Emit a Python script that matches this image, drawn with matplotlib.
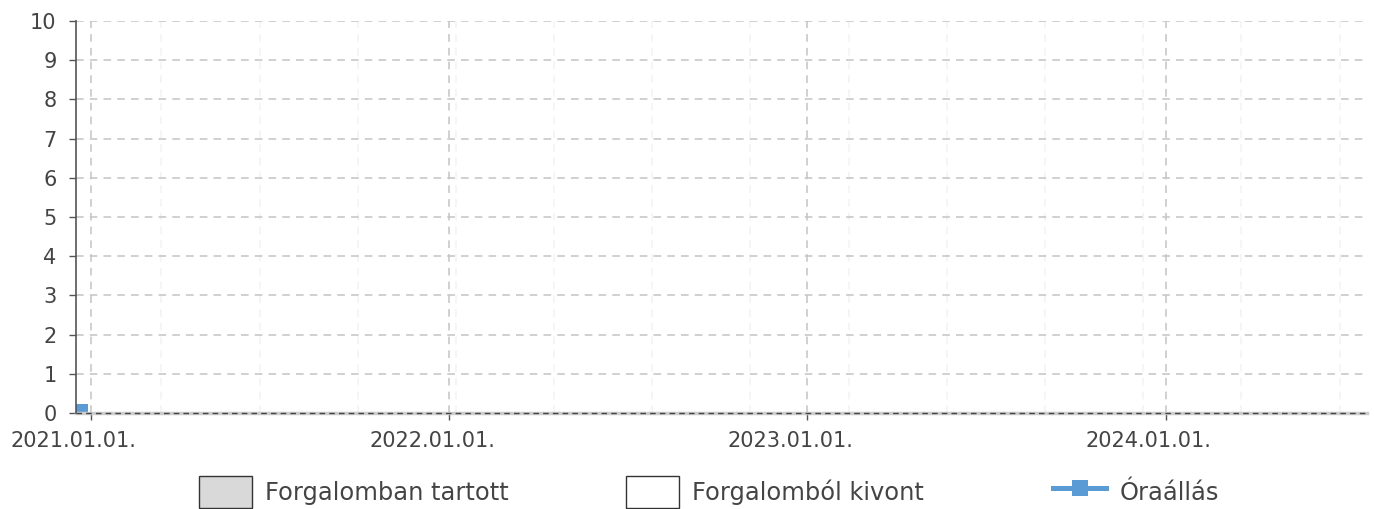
import datetime
import matplotlib
matplotlib.use("Agg")
import matplotlib.pyplot as plt
import matplotlib.dates as mdates
import matplotlib.transforms as mtransforms
from matplotlib.patches import Patch
from matplotlib.lines import Line2D
import pandas as pd

# Adatok
series_labels = ['Forgalomban tartott', 'Forgalomból kivont', 'Óraállás']
active_dates = []          # Forgalomban tartott - nincs adat
active_values = []
retired_dates = []         # Forgalomból kivont - nincs adat
retired_values = []
meter_dates = [datetime.date(2020, 12, 20)]
meter_values = [0]

x_start = datetime.date(2020, 12, 17)
x_end = datetime.date(2024, 7, 24)
year_ticks = [datetime.date(2021, 1, 1), datetime.date(2022, 1, 1),
              datetime.date(2023, 1, 1), datetime.date(2024, 1, 1)]
minor_start = datetime.date(2021, 3, 14)
y_ticks = list(range(0, 11))

text_col = '#444444'
blue = '#5b9bd5'

plt.rcParams['font.family'] = ['DejaVu Sans']
fig = plt.figure(figsize=(13.74, 5.09), dpi=100)
ax = fig.add_axes([76 / 1374, 1 - 413 / 509, (1367 - 76) / 1374, (413 - 21) / 509])

ax.bar(active_dates, active_values, color='#d9d9d9', edgecolor='#333333')
ax.bar(retired_dates, retired_values, color='white', edgecolor='#333333')
ax.plot(meter_dates, meter_values, color=blue, lw=3, marker='s', ms=12.5,
        markeredgewidth=0, zorder=3)

ax.set_xlim(x_start, x_end)
ax.set_ylim(0, 10)
ax.set_yticks(y_ticks)
ax.set_xticks(year_ticks)
ax.xaxis.set_major_formatter(mdates.DateFormatter('%Y.%m.%d.'))
minor = pd.date_range(minor_start, x_end, freq='100D')
ax.set_xticks(minor, minor=True)

ax.grid(axis='y', which='major', color='#c4c4c4', ls=(0, (5, 4)), lw=1.1)
ax.grid(axis='x', which='major', color='#c4c4c4', ls=(0, (5, 4)), lw=1.1)
ax.grid(axis='x', which='minor', color='#f2f2f2', ls=(0, (5, 4)), lw=1.1)

for s in ['top', 'right']:
    ax.spines[s].set_visible(False)
ax.spines['left'].set_color('#555555')
ax.spines['left'].set_linewidth(1.2)
ax.spines['left'].set_zorder(3.6)
ax.spines['bottom'].set_color('#cccccc')
ax.spines['bottom'].set_linewidth(2.5)
ax.spines['bottom'].set_zorder(3.5)
ax.axhline(0, color='#444444', ls=(0, (4, 3)), lw=1, zorder=4, clip_on=False)

ax.tick_params(axis='y', length=5, width=1, color='#555555', labelsize=15,
               labelcolor=text_col, pad=9)
ax.tick_params(axis='x', which='major', length=5, width=1, color='#555555',
               labelsize=15, labelcolor=text_col, pad=8)
ax.tick_params(axis='x', which='minor', length=0)

offset = mtransforms.ScaledTranslation(-17 / 100, 0, fig.dpi_scale_trans)
for lbl in ax.get_xticklabels():
    lbl.set_transform(lbl.get_transform() + offset)

# Jelmagyarazat
handles = [
    Patch(facecolor='#d9d9d9', edgecolor='#333333', lw=1),
    Patch(facecolor='white', edgecolor='#333333', lw=1),
    Line2D([], [], color=blue, lw=3.6, marker='s', ms=11.5, markeredgewidth=0),
]
for i, (h, lab) in enumerate(zip(handles, series_labels)):
    x0 = (199 + 427 * i) / 1374
    fig.legend([h], [lab], loc='center left', bbox_to_anchor=(x0, 1 - 492 / 509),
               frameon=False, fontsize=17.4, labelcolor=text_col,
               handlelength=2.2, handleheight=1.66, handletextpad=0.54,
               borderpad=0, borderaxespad=0)

fig.savefig('out.png', dpi=100)
